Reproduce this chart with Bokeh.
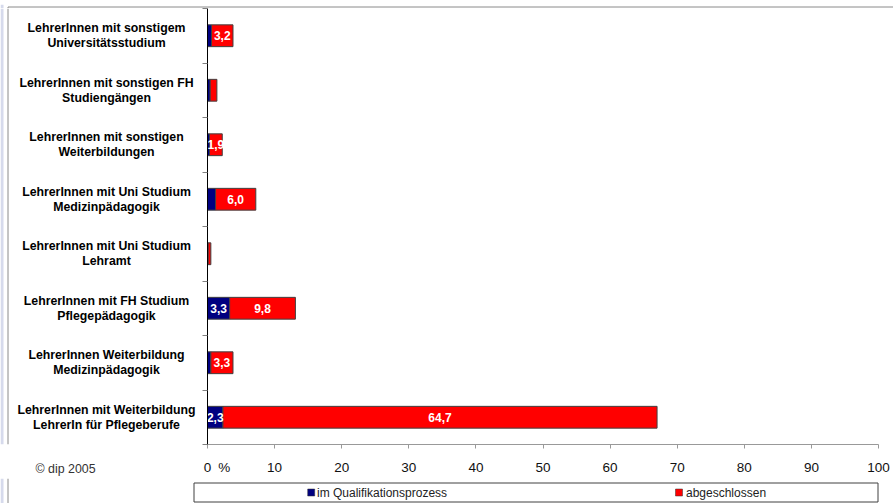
from bokeh.plotting import figure
from bokeh.models import Range1d, FixedTicker, ColumnDataSource
from bokeh.layouts import column, row
from bokeh.core.properties import value
from bokeh.embed import file_html
from bokeh.resources import INLINE

# ---------------- data ----------------
categories = [
    "LehrerInnen mit sonstigem\nUniversitätsstudium",
    "LehrerInnen mit sonstigen FH\nStudiengängen",
    "LehrerInnen mit sonstigen\nWeiterbildungen",
    "LehrerInnen mit Uni Studium\nMedizinpädagogik",
    "LehrerInnen mit Uni Studium\nLehramt",
    "LehrerInnen mit FH Studium\nPflegepädagogik",
    "LehrerInnen Weiterbildung\nMedizinpädagogik",
    "LehrerInnen mit Weiterbildung\nLehrerIn für Pflegeberufe",
]
im_qualifikation = [0.6, 0.4, 0.3, 1.2, 0.1, 3.3, 0.5, 2.3]
abgeschlossen = [3.2, 1.0, 1.9, 6.0, 0.4, 9.8, 3.3, 64.7]
series_names = ["im Qualifikationsprozess", "abgeschlossen"]
x_ticks = [0, 10, 20, 30, 40, 50, 60, 70, 80, 90, 100]
unit_label = "%"
note = "© dip 2005"

# ---------------- styling / layout ----------------
FONT = "Liberation Sans"
BLUE = "#000080"
RED = "#FF0000"
STRIPE = "#d6daec"
BORDER = "#8a8a8a"
W = 893
TOP_H = 8
MAIN_H = 470
LEG_H = 25
LBL_W = 198
FRAME_H = 437
BOTTOM = MAIN_H - FRAME_H
n = len(categories)
ypos = [n - 0.5 - i for i in range(n)]


def bare(fig):
    fig.axis.visible = False
    fig.grid.visible = False
    fig.outline_line_color = None
    return fig


# ---------------- top strip (chart border) ----------------
top = bare(figure(width=W, height=TOP_H, output_backend="svg", toolbar_location=None,
                  x_range=Range1d(0, W), y_range=Range1d(TOP_H, 0), min_border=0))
top.quad(left=[0], right=[3], top=[0], bottom=[TOP_H], fill_color=STRIPE, line_color=None)
top.segment(x0=[7.5, 7.5], y0=[TOP_H, 2.5], x1=[7.5, W], y1=[2.5, 2.5],
            line_color=BORDER, line_width=1)

# ---------------- main plot ----------------
yr = Range1d(0, n)
main = figure(width=W - LBL_W, height=MAIN_H, output_backend="svg",
              toolbar_location=None, x_range=Range1d(0, 100), y_range=yr,
              min_border_left=9, min_border_right=15, min_border_top=0,
              min_border_bottom=BOTTOM)
main.outline_line_color = None
main.grid.visible = False

right_end = [a + b for a, b in zip(im_qualifikation, abgeschlossen)]
src = ColumnDataSource(dict(y=ypos, b=im_qualifikation, r0=im_qualifikation, r1=right_end))
main.hbar(y="y", left=0, right="b", height=0.4, source=src,
          fill_color=BLUE, line_color="#404040", line_width=1)
main.hbar(y="y", left="r0", right="r1", height=0.4, source=src,
          fill_color=RED, line_color="#404040", line_width=1)

# value labels (shown when the segment is wide enough, as in the original)
lx, ly, lt = [], [], []
for i in range(n):
    b = im_qualifikation[i]
    r = abgeschlossen[i]
    if b >= 1.5:
        lx.append(b / 2); ly.append(ypos[i]); lt.append(f"{b:.1f}".replace(".", ","))
    if r >= 1.5:
        lx.append(b + r / 2); ly.append(ypos[i]); lt.append(f"{r:.1f}".replace(".", ","))
main.text(x=lx, y=ly, text=lt, text_color="white", text_font=value(FONT),
          text_font_style="bold", text_font_size="12px",
          text_align="center", text_baseline="middle")

# x axis: tick marks drawn as minor ticks, labels on major ticks (+ the "%" unit)
unit_pos = 2.5
xa = main.xaxis[0]
xa.ticker = FixedTicker(ticks=sorted(x_ticks + [unit_pos]), minor_ticks=x_ticks)
overrides = {t: str(t) for t in x_ticks}
overrides[unit_pos] = unit_label
xa.major_label_overrides = overrides
xa.axis_line_color = "#999999"
xa.major_tick_out = 0
xa.major_tick_in = 0
xa.minor_tick_out = 4
xa.minor_tick_in = 0
xa.minor_tick_line_color = "#999999"
xa.major_label_standoff = 11
xa.major_label_text_font = FONT
xa.major_label_text_font_size = "13.5px"
xa.major_label_text_color = "#111111"

# y axis: black line, ticks between categories
ya = main.yaxis[0]
ya.ticker = FixedTicker(ticks=ypos, minor_ticks=list(range(n + 1)))
ya.major_label_overrides = {v: "" for v in ypos}
ya.major_label_standoff = 0
ya.axis_line_color = "black"
ya.major_tick_out = 0
ya.major_tick_in = 0
ya.minor_tick_out = 5
ya.minor_tick_in = 0
ya.minor_tick_line_color = "#808080"

# ---------------- category label panel ----------------
lab = figure(width=LBL_W, height=MAIN_H, output_backend="svg", toolbar_location=None,
             x_range=Range1d(0, LBL_W), y_range=yr,
             min_border_left=0, min_border_right=0, min_border_top=0,
             min_border_bottom=BOTTOM)
lab.grid.visible = False
lab.outline_line_color = None
lab.yaxis.visible = False
lab.quad(left=[0], right=[3], top=[n], bottom=[0], fill_color=STRIPE, line_color=None)
lab.segment(x0=[7.5], y0=[0], x1=[7.5], y1=[n], line_color=BORDER, line_width=1)
lab.text(x=[106] * n, y=ypos, text=categories, text_font=value(FONT),
         text_font_style="bold", text_font_size="12.3px", text_color="black",
         text_align="center", text_baseline="middle", text_line_height=1.05)
# copyright note shown as the panel's bottom label
la = lab.xaxis[0]
note_x = 65
la.ticker = FixedTicker(ticks=[note_x], minor_ticks=[])
la.major_label_overrides = {note_x: note}
la.axis_line_color = None
la.major_tick_line_color = None
la.major_tick_out = 0
la.major_tick_in = 0
la.major_label_standoff = 17
la.major_label_text_font = FONT
la.major_label_text_font_size = "12.4px"
la.major_label_text_color = "#333333"

# ---------------- legend panel ----------------
leg = bare(figure(width=W, height=LEG_H, output_backend="svg", toolbar_location=None,
                  x_range=Range1d(0, W), y_range=Range1d(0, LEG_H), min_border=0))
leg.quad(left=[0], right=[3], top=[LEG_H], bottom=[0], fill_color=STRIPE, line_color=None)
leg.segment(x0=[7.5], y0=[0], x1=[7.5], y1=[LEG_H], line_color=BORDER, line_width=1)
leg.quad(left=[193.5], right=[877.5], bottom=[1.5], top=[20.5],
         fill_color="white", line_color="#404040", line_width=1)
leg.scatter(x=[310.7, 678.5], y=[11, 11], marker="square", size=7,
            fill_color=[BLUE, RED], line_color="#333333", line_width=0.5)
leg.text(x=[316.5, 685.5], y=[11, 11], text=series_names,
         text_font=value(FONT), text_font_size="12px", text_color="#222222",
         text_align="left", text_baseline="middle")

layout = column(top, row(lab, main, spacing=0), leg, spacing=0)
open("out.html", "w").write(file_html(layout, INLINE))
